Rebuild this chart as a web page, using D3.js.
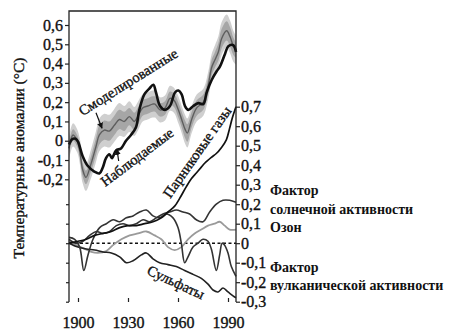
<!DOCTYPE html>
<html><head><meta charset="utf-8">
<script src="https://cdn.jsdelivr.net/npm/d3@7/dist/d3.min.js"></script>
<style>
html,body{margin:0;padding:0;background:#fff;}
svg{display:block;}
text{font-family:"Liberation Serif","Times New Roman",serif;fill:#111;}
text.heavy{stroke:#111;stroke-width:0.35px;}
</style></head>
<body>
<svg id="chart" width="450" height="335"></svg>
<script>
// ---------- DATA ----------
const leftTicks = [-0.2,-0.1,0,0.1,0.2,0.3,0.4,0.5,0.6];
const rightTicks = [-0.3,-0.2,-0.1,0,0.1,0.2,0.3,0.4,0.5,0.6,0.7];
const yearTicks = [1900,1930,1960,1990];

const obsYears = [1894.6,1896.8,1898.5,1900,1902.8,1905.8,1909.8,1912.8,1914.8,1916.8,1918.8,1920.4,1922.8,1925.8,1928.8,1931.8,1934.8,1936.8,1939.8,1942.8,1945.2,1946.8,1949.2,1952.2,1955.2,1958.2,1960.2,1962.2,1964.2,1966.2,1969.2,1972.2,1975.2,1977.2,1980.2,1983.2,1985.2,1988.2,1990.2,1993.2,1994.8];
const obsValues = [-0.02,0.01,0.01,-0.005,-0.08,-0.13,-0.16,-0.17,-0.14,-0.09,-0.07,-0.09,-0.05,-0.04,0.0,0.03,0.07,0.16,0.24,0.27,0.29,0.25,0.18,0.16,0.18,0.25,0.26,0.24,0.18,0.16,0.18,0.195,0.19,0.25,0.315,0.36,0.385,0.45,0.49,0.495,0.46];

const modelYears = [1894.6,1897,1899.5,1901,1902.8,1904.8,1907.8,1910.8,1912.8,1915.8,1918.8,1921.8,1924.8,1927.8,1930.8,1933.8,1935.8,1938.8,1941.8,1944.8,1946.2,1949.2,1952.2,1955.2,1957.6,1960.2,1962.2,1964.2,1965.6,1968.2,1971.2,1975.2,1978.2,1980.2,1982.2,1984.2,1986.2,1989.2,1991.2,1993.2,1994.8];
const modelMean  = [-0.04,0.03,0.0,-0.05,-0.15,-0.19,-0.12,-0.03,0.03,0.055,0.05,0.08,0.11,0.1,0.125,0.1,0.125,0.17,0.18,0.19,0.19,0.16,0.17,0.22,0.21,0.16,0.11,0.06,0.04,0.11,0.17,0.2,0.29,0.38,0.42,0.46,0.53,0.57,0.54,0.49,0.47];
const modelInner = [0.03,0.03,0.03,0.035,0.035,0.035,0.04,0.045,0.05,0.05,0.05,0.05,0.05,0.05,0.045,0.045,0.045,0.04,0.04,0.04,0.04,0.035,0.035,0.035,0.035,0.04,0.04,0.045,0.045,0.04,0.04,0.04,0.04,0.04,0.04,0.045,0.05,0.05,0.05,0.045,0.04];
const modelOuter = [0.06,0.06,0.06,0.065,0.07,0.07,0.075,0.08,0.085,0.085,0.085,0.085,0.085,0.08,0.08,0.075,0.075,0.07,0.07,0.07,0.07,0.065,0.065,0.065,0.065,0.07,0.07,0.075,0.075,0.07,0.07,0.07,0.07,0.07,0.075,0.08,0.085,0.085,0.085,0.08,0.075];

const greenhouse = [[1894.6,0.0],[1900,0.01],[1905,0.02],[1910,0.04],[1915,0.05],[1920,0.06],[1925,0.08],[1930,0.09],[1935,0.09],[1940,0.1],[1945,0.11],[1950,0.13],[1954,0.16],[1958,0.19],[1961,0.23],[1965,0.29],[1968,0.33],[1971,0.36],[1974,0.39],[1976,0.41],[1980,0.44],[1983,0.46],[1986,0.49],[1989,0.53],[1991,0.59],[1992.5,0.64],[1994.8,0.7]];
const sulfates = [[1894.6,0.0],[1900,-0.02],[1905,-0.03],[1910,-0.035],[1915,-0.045],[1920,-0.05],[1925,-0.07],[1929,-0.1],[1933,-0.09],[1938,-0.06],[1941,-0.05],[1945,-0.08],[1949,-0.1],[1954,-0.11],[1959,-0.12],[1964,-0.14],[1969,-0.16],[1974,-0.18],[1978,-0.21],[1981,-0.24],[1984,-0.25],[1987,-0.23],[1990,-0.25],[1993,-0.27],[1994.8,-0.28]];
const ozone = [[1894.6,0.01],[1899,-0.01],[1903,-0.025],[1908,-0.045],[1912,-0.05],[1917,-0.04],[1921,-0.01],[1926,0.02],[1931,0.04],[1936,0.05],[1941,0.06],[1946,0.04],[1950,0.02],[1954,-0.02],[1958,-0.035],[1962,-0.02],[1966,0.02],[1970,0.05],[1974,0.07],[1978,0.09],[1982,0.1],[1985,0.11],[1988,0.09],[1991,0.07],[1994.8,0.07]];
const solar = [[1894.6,0.02],[1899,0.0],[1903,0.01],[1907,0.04],[1911,0.06],[1915,0.05],[1919,0.06],[1923,0.09],[1927,0.1],[1931,0.09],[1935,0.1],[1939,0.12],[1943,0.11],[1947,0.13],[1951,0.15],[1955,0.16],[1959,0.17],[1963,0.16],[1967,0.15],[1971,0.12],[1975,0.11],[1979,0.16],[1983,0.2],[1987,0.22],[1991,0.22],[1994.8,0.21]];
const volcanic = [[1894.6,0.03],[1898,0.02],[1901,-0.02],[1903.5,-0.14],[1906,-0.06],[1909,0.02],[1913,0.08],[1917,0.1],[1921,0.12],[1925,0.11],[1929,0.13],[1933,0.14],[1937,0.16],[1941,0.17],[1945,0.14],[1949,0.13],[1953,0.15],[1957,0.13],[1960,0.08],[1962,0.0],[1964,-0.1],[1966,-0.07],[1969,-0.02],[1972,0.0],[1975,0.02],[1978,0.01],[1980,-0.03],[1983,-0.14],[1985,-0.06],[1986.5,0.0],[1988,-0.01],[1990,-0.05],[1992,-0.12],[1994.8,-0.17]];

// ---------- CHART ----------
const svg = d3.select("#chart");
const x = d3.scaleLinear().domain([1894.6, 1994.8]).range([69, 236]);
const yL = d3.scaleLinear().domain([-0.2, 0.6]).range([179.3, 25]);
const yR = d3.scaleLinear().domain([-0.3, 0.7]).range([301.7, 106.7]);
const frameTop = 11, frameBottom = 302;
const fmt = v => Math.abs(v) < 1e-9 ? "0" : d3.format(".1f")(v).replace("\u2212", "-").replace(".", ",");
const curve = d3.curveCatmullRom.alpha(0.5);

// model bands
const modelIdx = d3.range(modelYears.length);
const areaOuter = d3.area().curve(curve).x(i => x(modelYears[i]))
  .y0(i => yL(modelMean[i] - modelOuter[i])).y1(i => yL(modelMean[i] + modelOuter[i]));
const areaInner = d3.area().curve(curve).x(i => x(modelYears[i]))
  .y0(i => yL(modelMean[i] - modelInner[i])).y1(i => yL(modelMean[i] + modelInner[i]));
svg.append("path").attr("d", areaOuter(modelIdx)).attr("fill", "#cfcfcf");
svg.append("path").attr("d", areaInner(modelIdx)).attr("fill", "#a6a6a6");
const modelLine = d3.line().curve(curve).x(i => x(modelYears[i])).y(i => yL(modelMean[i]));
svg.append("path").attr("d", modelLine(modelIdx)).attr("fill", "none").attr("stroke", "#5e5e5e").attr("stroke-width", 1.4);

const obsLine = d3.line().curve(curve).x(i => x(obsYears[i])).y(i => yL(obsValues[i]));
svg.append("path").attr("d", obsLine(d3.range(obsYears.length))).attr("fill", "none")
  .attr("stroke", "#111").attr("stroke-width", 2.6).attr("stroke-linejoin", "round");

// bottom panel
svg.append("line").attr("x1", 69).attr("x2", 236).attr("y1", yR(0)).attr("y2", yR(0))
  .attr("stroke", "#111").attr("stroke-width", 1.6).attr("stroke-dasharray", "3,2.5");
const rLine = d3.line().curve(curve).x(d => x(d[0])).y(d => yR(d[1]));
const series = [
  [ozone, "#9a9a9a", 1.8],
  [sulfates, "#222", 1.6],
  [solar, "#333", 1.6],
  [volcanic, "#333", 1.6],
  [greenhouse, "#111", 1.7]
];
series.forEach(([d, c, w]) => {
  svg.append("path").attr("d", rLine(d)).attr("fill", "none").attr("stroke", c).attr("stroke-width", w);
});

// frame
const frame = svg.append("g").attr("stroke", "#222").attr("stroke-width", 1.3).attr("fill", "none");
frame.append("path").attr("d", `M69,${frameBottom}V${frameTop}H236V${frameBottom}`);

// axes
const axL = svg.append("g").attr("transform", "translate(69,0)")
  .call(d3.axisLeft(yL).tickValues(leftTicks).tickSize(4).tickPadding(2).tickFormat(fmt));
const axL2 = svg.append("g").attr("transform", "translate(69,0)")
  .call(d3.axisLeft(yR).tickValues([-0.3,-0.2,-0.1,0,0.1,0.2]).tickSize(3).tickFormat(""));
const axR = svg.append("g").attr("transform", "translate(236,0)")
  .call(d3.axisRight(yR).tickValues(rightTicks).tickSize(4).tickPadding(1).tickFormat(fmt));
const axB = svg.append("g").attr("transform", `translate(0,${frameBottom})`)
  .call(d3.axisBottom(x).tickValues(yearTicks).tickSize(-4).tickPadding(15).tickFormat(d3.format("d")));
[axL, axL2, axR, axB].forEach(g => {
  g.select(".domain").remove();
  g.selectAll("line").attr("stroke", "#222").attr("stroke-width", 1.2);
  g.selectAll("text").attr("font-size", 16).attr("fill", "#111").attr("class", "heavy")
    .attr("font-family", '"Liberation Serif","Times New Roman",serif');
});

// y title
svg.append("text").attr("class", "heavy").attr("transform", "translate(24,158) rotate(-90)")
  .attr("text-anchor", "middle").attr("font-size", 15.5).text("Температурные аномалии (°C)");

// annotations
function label(txt, xx, yy, ang) {
  svg.append("text").attr("class", "heavy").attr("transform", `translate(${xx},${yy}) rotate(${ang})`)
    .attr("text-anchor", "middle").attr("dominant-baseline", "central")
    .attr("font-size", 14.5).text(txt);
}
label("Смоделированные", x(1930), yL(0.305), -32);
label("Наблюдаемые", x(1935.4), yL(-0.084), -37);
label("Парниковые газы", x(1971.4), yR(0.468), -55);
label("Сульфаты", x(1958.8), yR(-0.2), 25);

// arrows
svg.append("defs").append("marker").attr("id", "ah").attr("viewBox", "0 0 10 10")
  .attr("refX", 9).attr("refY", 5).attr("markerWidth", 5).attr("markerHeight", 5)
  .attr("orient", "auto").append("path").attr("d", "M0,0L10,5L0,10z").attr("fill", "#111");
function arrow(y1, v1, y2, v2) {
  svg.append("line").attr("x1", x(y1)).attr("y1", yL(v1)).attr("x2", x(y2)).attr("y2", yL(v2))
    .attr("stroke", "#111").attr("stroke-width", 1.2).attr("marker-end", "url(#ah)");
}
arrow(1910.8, 0.145, 1914.4, 0.065);
arrow(1924.4, -0.105, 1923.4, -0.045);

// right-hand legend
const legend = [
  ["Фактор", 195], ["солнечной активности", 214], ["Озон", 232],
  ["Фактор", 272], ["вулканической активности", 290]
];
legend.forEach(([t, yy]) => {
  svg.append("text").attr("x", 270).attr("y", yy).attr("font-size", 14)
    .attr("font-weight", "bold").text(t);
});
</script>
</body></html>
